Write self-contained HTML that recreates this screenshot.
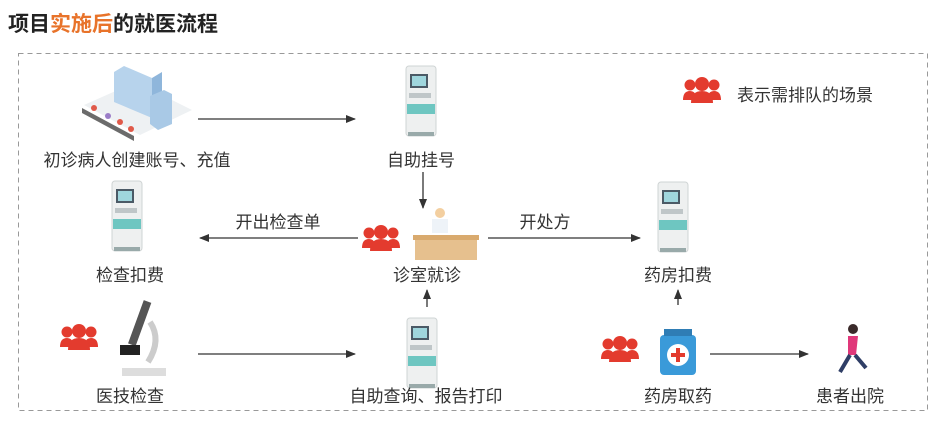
<!DOCTYPE html><html><head><meta charset="utf-8"><style>
body{margin:0;background:#fff;width:940px;height:421px;overflow:hidden}
text{font-family:"Liberation Sans","Noto Sans CJK SC",sans-serif;fill:#333}
</style></head><body>
<svg width="940" height="421" xmlns="http://www.w3.org/2000/svg">
<defs>
<marker id="a" markerWidth="10" markerHeight="8" refX="9" refY="4" orient="auto" markerUnits="userSpaceOnUse"><path d="M0,0 L10,4 L0,8 z" fill="#333"/></marker>
<g id="k">
<rect x="0" y="0" width="30" height="70" rx="3" fill="#eef0f0" stroke="#cfd4d4"/>
<rect x="4" y="8" width="18" height="14" fill="#4b5a66"/>
<rect x="6" y="10" width="14" height="10" fill="#9fd6dd"/>
<rect x="3" y="27" width="22" height="5" fill="#bfc6c8"/>
<rect x="1" y="38" width="28" height="10" fill="#6ec6c1"/>
<rect x="2" y="66" width="26" height="4" fill="#9aa"/>
</g>
<g id="p" fill="#e33b2e">
<circle cx="7" cy="7" r="5.5"/><circle cx="31" cy="7" r="5.5"/><circle cx="19" cy="6" r="7"/>
<path d="M0,22 Q0,13 7,13 Q12,13 13,18 L13,22z"/><path d="M38,22 Q38,13 31,13 Q26,13 25,18 L25,22z"/>
<path d="M8,25 Q8,13 19,13 Q30,13 30,25z"/>
</g>
</defs>
<text x="8" y="31" font-size="21" font-weight="bold" style="fill:#222">项目<tspan style="fill:#e8732a">实施后</tspan>的就医流程</text>
<rect x="18.5" y="53.5" width="909" height="357" fill="none" stroke="#999" stroke-dasharray="5,4"/>
<g stroke="#333" stroke-width="1.3" fill="none" marker-end="url(#a)">
<line x1="198" y1="119" x2="355" y2="119"/>
<line x1="423" y1="172" x2="423" y2="208"/>
<line x1="358" y1="238" x2="200" y2="238"/>
<line x1="488" y1="238" x2="640" y2="238"/>
<line x1="427" y1="307" x2="427" y2="290"/>
<line x1="678" y1="305" x2="678" y2="290"/>
<line x1="198" y1="354" x2="355" y2="354"/>
<line x1="710" y1="354" x2="808" y2="354"/>
</g>
<!-- hospital -->
<polygon points="84,105 140,135 192,110 136,82" fill="#eef1f3"/>
<polygon points="82,108 134,136 134,141 82,113" fill="#6b6b6b"/>
<polygon points="114,72 124,66 152,78 152,118 114,102" fill="#b7d3ec"/>
<polygon points="152,78 162,72 162,112 152,118" fill="#8fb6db"/>
<polygon points="150,96 164,90 172,94 172,124 158,130 150,124" fill="#a9c9e6"/>
<circle cx="94" cy="108" r="3" fill="#e05a4a"/><circle cx="108" cy="116" r="3" fill="#9b7ec8"/><circle cx="120" cy="122" r="3" fill="#e05a4a"/><circle cx="131" cy="129" r="3" fill="#e05a4a"/>
<use href="#k" x="406" y="66"/>
<use href="#k" x="112" y="181"/>
<use href="#k" x="658" y="182"/>
<use href="#k" x="407" y="318"/>
<use href="#p" x="683" y="78"/>
<use href="#p" x="362" y="226"/>
<use href="#p" x="60" y="325"/>
<use href="#p" x="601" y="337"/>
<!-- doctor -->
<circle cx="440" cy="213" r="5" fill="#f3cfa0"/><rect x="432" y="219" width="16" height="14" fill="#eef3f8"/>
<rect x="415" y="238" width="62" height="22" fill="#e6c08e"/><rect x="413" y="235" width="66" height="5" fill="#d9aa6e"/>
<!-- microscope -->
<rect x="122" y="368" width="44" height="8" fill="#ddd"/>
<path d="M148,362 Q162,340 150,322" stroke="#ccc" stroke-width="6" fill="none"/>
<rect x="135" y="300" width="8" height="46" fill="#555" transform="rotate(20 139 325)"/>
<rect x="120" y="345" width="20" height="10" fill="#222"/>
<!-- bottle -->
<rect x="660" y="335" width="36" height="40" rx="4" fill="#3a9ad9"/><rect x="664" y="329" width="28" height="7" fill="#2f7db5"/>
<circle cx="678" cy="355" r="11" fill="#fff"/><rect x="676" y="348" width="4" height="14" fill="#e33b2e"/><rect x="671" y="353" width="14" height="4" fill="#e33b2e"/>
<!-- runner -->
<circle cx="853" cy="329" r="5" fill="#3a2a2a"/><path d="M848,336 L858,336 L856,355 L848,355z" fill="#e0387a"/>
<path d="M850,355 L840,372 M855,355 L866,368" stroke="#2f3e66" stroke-width="4"/>
<g font-size="17" text-anchor="middle">
<text x="137" y="166">初诊病人创建账号、充值</text>
<text x="421" y="166">自助挂号</text>
<text x="130" y="281">检查扣费</text>
<text x="427" y="281">诊室就诊</text>
<text x="678" y="281">药房扣费</text>
<text x="278" y="228">开出检查单</text>
<text x="545" y="228">开处方</text>
<text x="130" y="402">医技检查</text>
<text x="426" y="402">自助查询、报告打印</text>
<text x="678" y="402">药房取药</text>
<text x="850" y="402">患者出院</text>
</g>
<text x="737" y="101" font-size="17">表示需排队的场景</text>
</svg>
</body></html>
